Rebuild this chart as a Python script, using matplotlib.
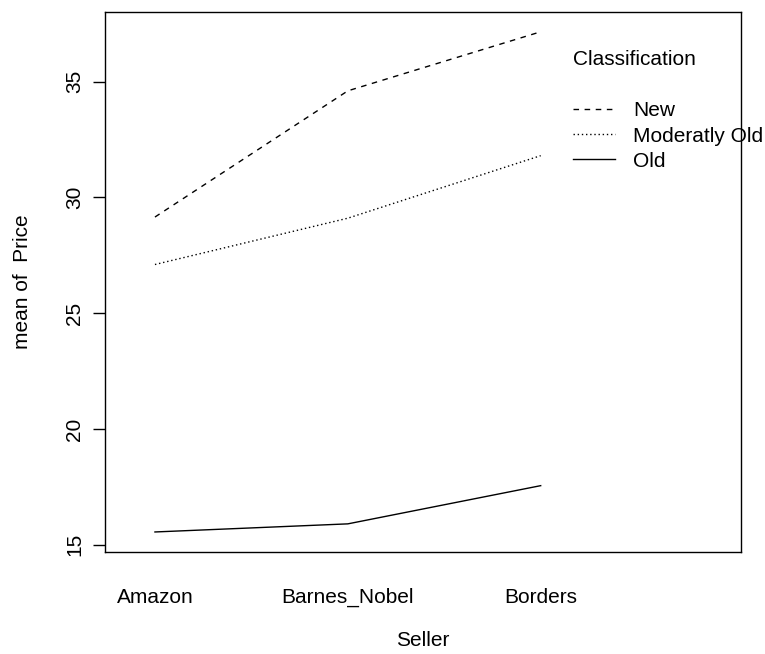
import numpy as np
import matplotlib.pyplot as plt

# data
sellers = ['Amazon', 'Barnes_Nobel', 'Borders']
new_price = [29.15, 34.6, 37.15]
mod_old_price = [27.1, 29.1, 31.8]
old_price = [15.55, 15.9, 17.55]
classes = ['New', 'Moderatly Old', 'Old']

plt.rcParams['font.family'] = ['Liberation Sans', 'DejaVu Sans']

fig = plt.figure(figsize=(7.65, 6.54), dpi=100)
ax = fig.add_axes([0.137, 0.156, 0.832, 0.826])

x = np.arange(1, len(sellers) + 1)
ax.plot(x, new_price, color='black', lw=1.0, linestyle=(0, (4, 4)), label=classes[0])
ax.plot(x, mod_old_price, color='black', lw=1.0, linestyle=(0, (1, 2)), label=classes[1])
ax.plot(x, old_price, color='black', lw=1.0, linestyle='-', label=classes[2])

ax.set_xlim(0.74, 4.04)
ymin = min(old_price)
ymax = max(new_price)
pad = (ymax - ymin) * 0.04
ax.set_ylim(ymin - pad, ymax + pad)

ax.set_xticks(x)
ax.set_xticklabels(sellers, fontsize=15)
ax.tick_params(axis='x', length=0, pad=26)
ax.set_yticks([15, 20, 25, 30, 35])
ax.tick_params(axis='y', length=9, width=1, labelsize=15, pad=6)
for lbl in ax.get_yticklabels():
    lbl.set_rotation(90)
    lbl.set_va('center')

ax.set_xlabel('Seller', fontsize=15, labelpad=17)
ax.set_ylabel('mean of  Price', fontsize=15, labelpad=24)

for sp in ax.spines.values():
    sp.set_linewidth(1.0)
    sp.set_zorder(6)

leg = ax.legend(title='Classification\n', loc='upper left', bbox_to_anchor=(0.72, 0.948),
                frameon=False, fontsize=15, title_fontsize=15, handlelength=2.0,
                handletextpad=0.85, labelspacing=0.3, borderpad=0, alignment='left')
leg.get_title().set_linespacing(1.45)
leg.set_zorder(5)

fig.savefig('out.png', dpi=100)
